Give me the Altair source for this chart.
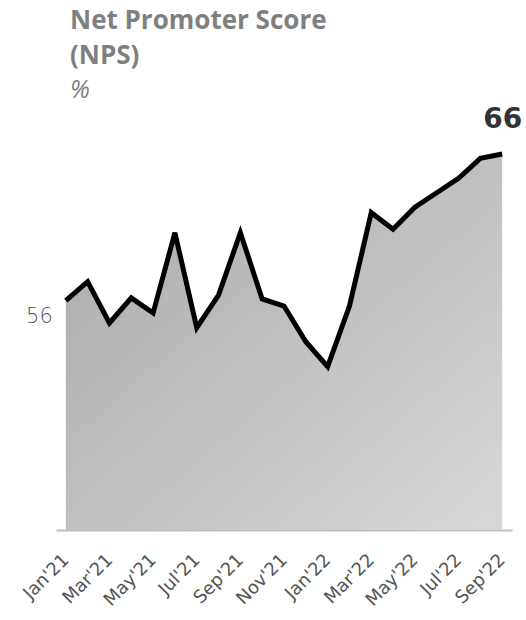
import altair as alt
import pandas as pd

months = ["Jan'21", "Feb'21", "Mar'21", "Apr'21", "May'21", "Jun'21", "Jul'21",
          "Aug'21", "Sep'21", "Oct'21", "Nov'21", "Dec'21", "Jan'22", "Feb'22",
          "Mar'22", "Apr'22", "May'22", "Jun'22", "Jul'22", "Aug'22", "Sep'22"]
nps = [55.65, 56.95, 54.13, 55.84, 54.81, 60.29, 53.81, 56.04, 60.29, 55.77, 55.29,
       52.85, 51.15, 55.29, 61.66, 60.53, 62.03, 63.02, 64.01, 65.37, 65.67]
tick_labels = ["Jan'21", "Mar'21", "May'21", "Jul'21", "Sep'21", "Nov'21",
               "Jan'22", "Mar'22", "May'22", "Jul'22", "Sep'22"]
y_min, y_max = 40, 70

df = pd.DataFrame({"month": months, "nps": nps})
df["label"] = df["nps"].round(0).astype(int).astype(str)

x = alt.X("month:O", sort=months,
          scale=alt.Scale(type="point", padding=0.45),
          axis=alt.Axis(title=None, values=tick_labels, labelAngle=-45,
                        labelAlign="right", labelBaseline="middle",
                        labelOverlap=False, labelBound=False,
                        labelFont="DejaVu Sans", labelFontSize=18,
                        labelColor="#555555", labelPadding=27,
                        ticks=False, domainColor="#bdbdbd", domainWidth=2,
                        grid=False))
y = alt.Y("nps:Q", scale=alt.Scale(domain=[y_min, y_max], zero=False, nice=False),
          axis=None)

base = alt.Chart(df).encode(x=x, y=y)

area = base.mark_area(
    color=alt.Gradient(gradient="linear", x1=0, y1=0, x2=1, y2=1,
                       stops=[alt.GradientStop(color="#a8a8a8", offset=0),
                              alt.GradientStop(color="#d6d8da", offset=1)]),
    line=False).encode(y2=alt.datum(y_min))

line = base.mark_line(color="#000000", strokeWidth=5, strokeJoin="miter",
                      strokeCap="butt")

first_lbl = base.mark_text(align="right", baseline="middle", dx=-13, dy=16,
                           font="DejaVu Sans", fontSize=21, color="#555555",
                           fontWeight=300).encode(text="label:N").transform_filter(
    alt.datum.month == months[0])

last_lbl = base.mark_text(align="right", baseline="middle", dx=20, dy=-34,
                          font="DejaVu Sans", fontSize=28, color="#333333",
                          fontWeight="bold").encode(text="label:N").transform_filter(
    alt.datum.month == months[-1])

chart = alt.layer(area, line, first_lbl, last_lbl).properties(
    width=456, height=439.5,
    autosize=alt.AutoSizeParams(type="none"),
    padding={"left": 56, "top": 90.5, "right": 14, "bottom": 90},
    title=alt.TitleParams(
        text=["Net Promoter Score", "(NPS)"],
        subtitle="%",
        anchor="start", frame="group", orient="top",
        font="Open Sans", fontSize=26, fontWeight="bold", color="#7f7f7f",
        lineHeight=35,
        subtitleFont="Open Sans", subtitleFontSize=25, subtitleFontStyle="italic",
        subtitleColor="#7f7f7f", subtitlePadding=9, subtitleLineHeight=30,
        dx=14, offset=-12),
).configure_view(stroke=None)

chart.save("out.html", embed_options={"renderer": "svg", "actions": False})
